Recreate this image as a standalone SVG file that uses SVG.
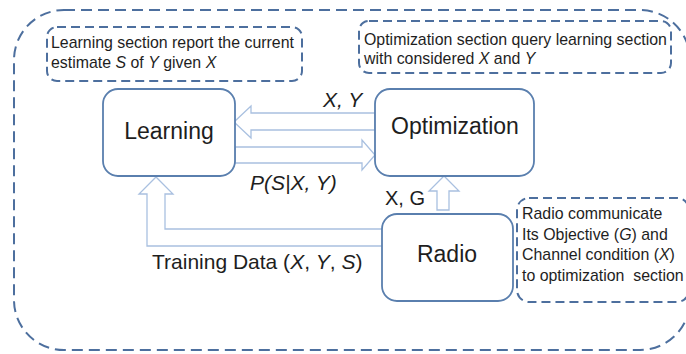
<svg xmlns="http://www.w3.org/2000/svg" width="686" height="354" viewBox="0 0 686 354">
  <style>
    .frame { fill: none; stroke: #4d6f9e; stroke-width: 2; stroke-dasharray: 11 6; }
    .note { fill: #ffffff; stroke: #4d6f9e; stroke-width: 2; stroke-dasharray: 9 5; }
    .block { fill: #ffffff; stroke: #5a7fae; stroke-width: 1.8; }
    .flow { fill: #ffffff; stroke: #a9c0e0; stroke-width: 1.3; stroke-linejoin: miter; }
    text { font-family: "Liberation Sans", Arial, sans-serif; fill: #1e1e1e; }
    .title { font-size: 23px; text-anchor: middle; }
    .lbl { font-size: 21px; }
    .small { font-size: 15.9px; white-space: pre; }
    .it { font-style: italic; }
  </style>

  <!-- outer system boundary -->
  <rect class="frame" x="14" y="10" width="676" height="340" rx="50" ry="50"/>

  <!-- explanatory notes -->
  <g id="note-learning">
    <rect class="note" x="47" y="27" width="255" height="54" rx="10"/>
    <text class="small" x="51" y="48">Learning section report the current</text>
    <text class="small" x="51" y="68">estimate <tspan class="it">S</tspan> of <tspan class="it">Y</tspan> given <tspan class="it">X</tspan></text>
  </g>
  <g id="note-optimization">
    <rect class="note" x="359" y="21" width="312" height="52" rx="10"/>
    <text class="small" x="364" y="45">Optimization section query learning section</text>
    <text class="small" x="364" y="64">with considered <tspan class="it">X</tspan> and <tspan class="it">Y</tspan></text>
  </g>
  <g id="note-radio">
    <rect class="note" x="517" y="198" width="172" height="104" rx="12"/>
    <text class="small" x="522" y="219">Radio communicate</text>
    <text class="small" x="522" y="240">Its Objective (<tspan class="it">G</tspan>) and</text>
    <text class="small" x="522" y="260">Channel condition (<tspan class="it">X</tspan>)</text>
    <text class="small" x="522" y="281">to optimization  section</text>
  </g>

  <!-- block arrows -->
  <g id="connectors">
    <polygon class="flow" points="375,113 251,113 251,106 234,122 251,138 251,130 375,130"/>
    <polygon class="flow" points="235,147 362,147 362,140 375,155 362,170 362,163 235,163"/>
    <polygon class="flow" points="437,210 437,191 429,191 444,176 459,191 449,191 449,210"/>
    <polyline class="flow" points="383,229 165,229 165,194 173,194 156,177 139,194 147,194 147,246 383,246"/>
    <text class="lbl it" x="323" y="107">X, Y</text>
    <text class="lbl it" x="250" y="190">P(S|X, Y)</text>
    <text class="lbl" x="385" y="205" style="font-size:20px">X, G</text>
    <text class="lbl" x="152" y="269">Training Data (<tspan class="it">X</tspan>, <tspan class="it">Y</tspan>, <tspan class="it">S</tspan>)</text>
  </g>

  <!-- main blocks -->
  <g id="learning">
    <rect class="block" x="103" y="89" width="132" height="87" rx="15"/>
    <text class="title" x="169" y="139">Learning</text>
  </g>
  <g id="optimization">
    <rect class="block" x="375" y="89" width="159" height="87" rx="15"/>
    <text class="title" x="455" y="134">Optimization</text>
  </g>
  <g id="radio">
    <rect class="block" x="382" y="214" width="131" height="87" rx="15"/>
    <text class="title" x="447" y="262">Radio</text>
  </g>
</svg>
